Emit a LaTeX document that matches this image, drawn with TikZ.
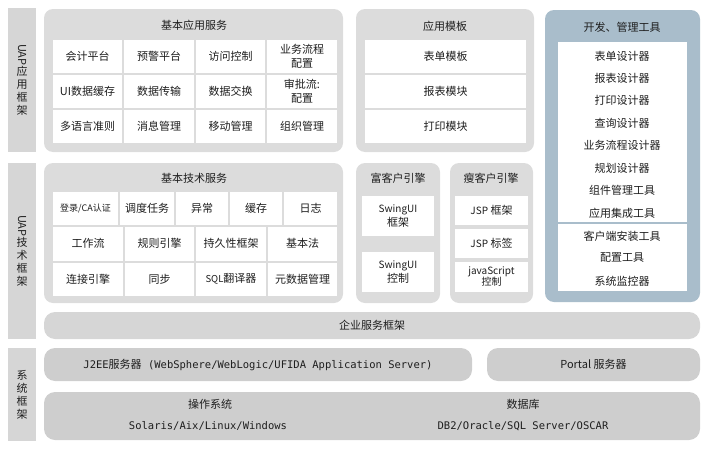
\documentclass[tikz,border=0pt]{standalone}
\usepackage{fontspec}
\setmainfont{Noto Sans CJK SC}
\newfontfamily\monofnt{DejaVu Sans Mono}

\definecolor{grpgray}{HTML}{DCDCDC}
\definecolor{bargray}{HTML}{CECECE}
\definecolor{sidegray}{HTML}{D6D6D6}
\definecolor{toolblue}{HTML}{A9BDCB}
\definecolor{txtgray}{HTML}{1E1E1E}

% box from corner (x1,y1) to (x2,y2), in pixels
\newcommand\bx[7][]{%
  \node[#1, anchor=north west, minimum width={(#5-#3)*1pt},
        minimum height={(#6-#4)*1pt}] (#2) at (#3,#4) {#7};}

\tikzset{
  grp/.style={fill=grpgray, rounded corners=9pt, inner sep=0pt, outer sep=0pt},
  bar/.style={fill=bargray, rounded corners=9pt, inner sep=0pt, outer sep=0pt},
  side/.style={fill=sidegray, inner sep=0pt, outer sep=0pt, align=center},
  cell/.style={fill=white, inner sep=0pt, outer sep=0pt, align=center},
  ttl/.style={inner sep=0pt},
  small/.style={font=\fontsize{9}{11}\selectfont},
  mono/.style={font=\monofnt\fontsize{10.5}{12}\selectfont},
}

\begin{document}
\begin{tikzpicture}[x=1pt, y=-1pt, text=txtgray,
    font=\fontsize{11}{14.5}\selectfont]
  \useasboundingbox (0,0) rectangle (710,450);

  % side labels
  \bx[side]{sApp}{8}{8}{36}{152}{}
  \bx[side]{sTech}{8}{163}{36}{339}{}
  \bx[side]{sSys}{8}{348}{36}{441}{}
  \begin{scope}[font=\fontsize{11}{13}\selectfont]
    \node[align=center, inner sep=0pt] (lApp) at (sApp) {\rotatebox{-90}{UAP}\\应\\用\\框\\架};
    \node[align=center, inner sep=0pt] (lTech) at (sTech) {\rotatebox{-90}{UAP}\\技\\术\\框\\架};
    \node[align=center, inner sep=0pt] (lSys) at (sSys) {系\\统\\框\\架};
  \end{scope}

  % basic application services
  \bx[grp]{gApp}{44}{9}{343}{152}{}
  \node[ttl] (tApp) at (194,25) {基本应用服务};
  \bx[cell]{app11}{53}{40}{122}{73}{会计平台}
  \bx[cell]{app12}{124}{40}{194}{73}{预警平台}
  \bx[cell]{app13}{196}{40}{265}{73}{访问控制}
  \bx[cell]{app14}{267}{40}{337}{73}{业务流程\\配置}
  \bx[cell]{app21}{53}{75}{122}{108}{UI数据缓存}
  \bx[cell]{app22}{124}{75}{194}{108}{数据传输}
  \bx[cell]{app23}{196}{75}{265}{108}{数据交换}
  \bx[cell]{app24}{267}{75}{337}{108}{审批流:\\配置}
  \bx[cell]{app31}{53}{110}{122}{143}{多语言准则}
  \bx[cell]{app32}{124}{110}{194}{143}{消息管理}
  \bx[cell]{app33}{196}{110}{265}{143}{移动管理}
  \bx[cell]{app34}{267}{110}{337}{143}{组织管理}

  % application templates
  \bx[grp]{gTpl}{356}{9}{534}{152}{}
  \node[ttl] (tTpl) at (445,26) {应用模板};
  \bx[cell]{tpl1}{365}{40}{526}{73}{表单模板}
  \bx[cell]{tpl2}{365}{75}{526}{108}{报表模块}
  \bx[cell]{tpl3}{365}{110}{526}{143}{打印模块}

  % development and management tools
  \bx[grp, fill=toolblue]{gTool}{545}{10}{700}{302}{}
  \node[ttl] (tTool) at (622,27) {开发、管理工具};
  \bx[cell]{tIn}{558}{42}{687}{291}{}
  \draw[toolblue, line width=1.5pt] (tIn.west |- 0,223) -- (tIn.east |- 0,223);
  \node (tool1) at (622,56) {表单设计器};
  \node (tool2) at (622,78) {报表设计器};
  \node (tool3) at (622,100) {打印设计器};
  \node (tool4) at (622,123) {查询设计器};
  \node (tool5) at (622,145) {业务流程设计器};
  \node (tool6) at (622,168) {规划设计器};
  \node (tool7) at (622,190) {组件管理工具};
  \node (tool8) at (622,213) {应用集成工具};
  \node (tool9) at (622,236) {客户端安装工具};
  \node (tool10) at (622,258) {配置工具};
  \node (tool11) at (622,281) {系统监控器};

  % basic technical services
  \bx[grp]{gTech}{44}{163}{343}{303}{}
  \node[ttl] (tTech) at (194,178) {基本技术服务};
  \bx[cell, small]{tec11}{53}{192}{118}{225}{登录/CA认证}
  \bx[cell]{tec12}{120}{192}{174}{225}{调度任务}
  \bx[cell]{tec13}{176}{192}{228}{225}{异常}
  \bx[cell]{tec14}{230}{192}{282}{225}{缓存}
  \bx[cell]{tec15}{284}{192}{337}{225}{日志}
  \bx[cell]{tec21}{53}{227}{123}{260.5}{工作流}
  \bx[cell]{tec22}{125}{227}{194}{260.5}{规则引擎}
  \bx[cell]{tec23}{196}{227}{266}{260.5}{持久性框架}
  \bx[cell]{tec24}{268}{227}{337}{260.5}{基本法}
  \bx[cell]{tec31}{53}{262.5}{123}{296}{连接引擎}
  \bx[cell]{tec32}{125}{262.5}{194}{296}{同步}
  \bx[cell]{tec33}{196}{262.5}{266}{296}{{\fontsize{9.5}{11}\selectfont SQL}翻译器}
  \bx[cell]{tec34}{268}{262.5}{337}{296}{元数据管理}

  % rich client engine
  \bx[grp]{gRich}{356}{163}{440}{303}{}
  \node[ttl] (tRich) at (398,178) {富客户引擎};
  \bx[cell]{rich1}{362}{196}{434}{236}{{\fontsize{10}{12}\selectfont SwingUI}\\框架}
  \bx[cell]{rich2}{362}{252}{434}{292}{{\fontsize{10}{12}\selectfont SwingUI}\\控制}

  % thin client engine
  \bx[grp]{gThin}{450}{163}{533}{303}{}
  \node[ttl] (tThin) at (491,178) {瘦客户引擎};
  \bx[cell]{thin1}{455}{196}{528}{225}{{\fontsize{10}{12}\selectfont JSP} 框架}
  \bx[cell]{thin2}{455}{229}{528}{258}{{\fontsize{10}{12}\selectfont JSP} 标签}
  \bx[cell, font=\fontsize{10}{11}\selectfont]{thin3}{455}{262}{528}{292}{javaScript\\控制}

  % enterprise service framework and system layer
  \bx[grp, fill=sidegray, rounded corners=11pt]{bEnt}{44}{312}{700}{339}{企业服务框架}
  \bx[bar, rounded corners=11pt, mono]{bJ2ee}{44}{348}{472}{381}{J2EE{\rmfamily\fontsize{11}{12}\selectfont 服务器} (WebSphere/WebLogic/UFIDA Application Server)}
  \bx[bar, rounded corners=11pt]{bPortal}{487}{348}{700}{381}{Portal 服务器}
  \bx[bar, rounded corners=11pt]{bBase}{44}{392}{700}{440}{}
  \node (os) at (210,404) {操作系统};
  \node[mono] (osList) at (208,426) {Solaris/Aix/Linux/Windows};
  \node (db) at (523,404) {数据库};
  \node[mono] (dbList) at (523,426) {DB2/Oracle/SQL Server/OSCAR};
\end{tikzpicture}
\end{document}
